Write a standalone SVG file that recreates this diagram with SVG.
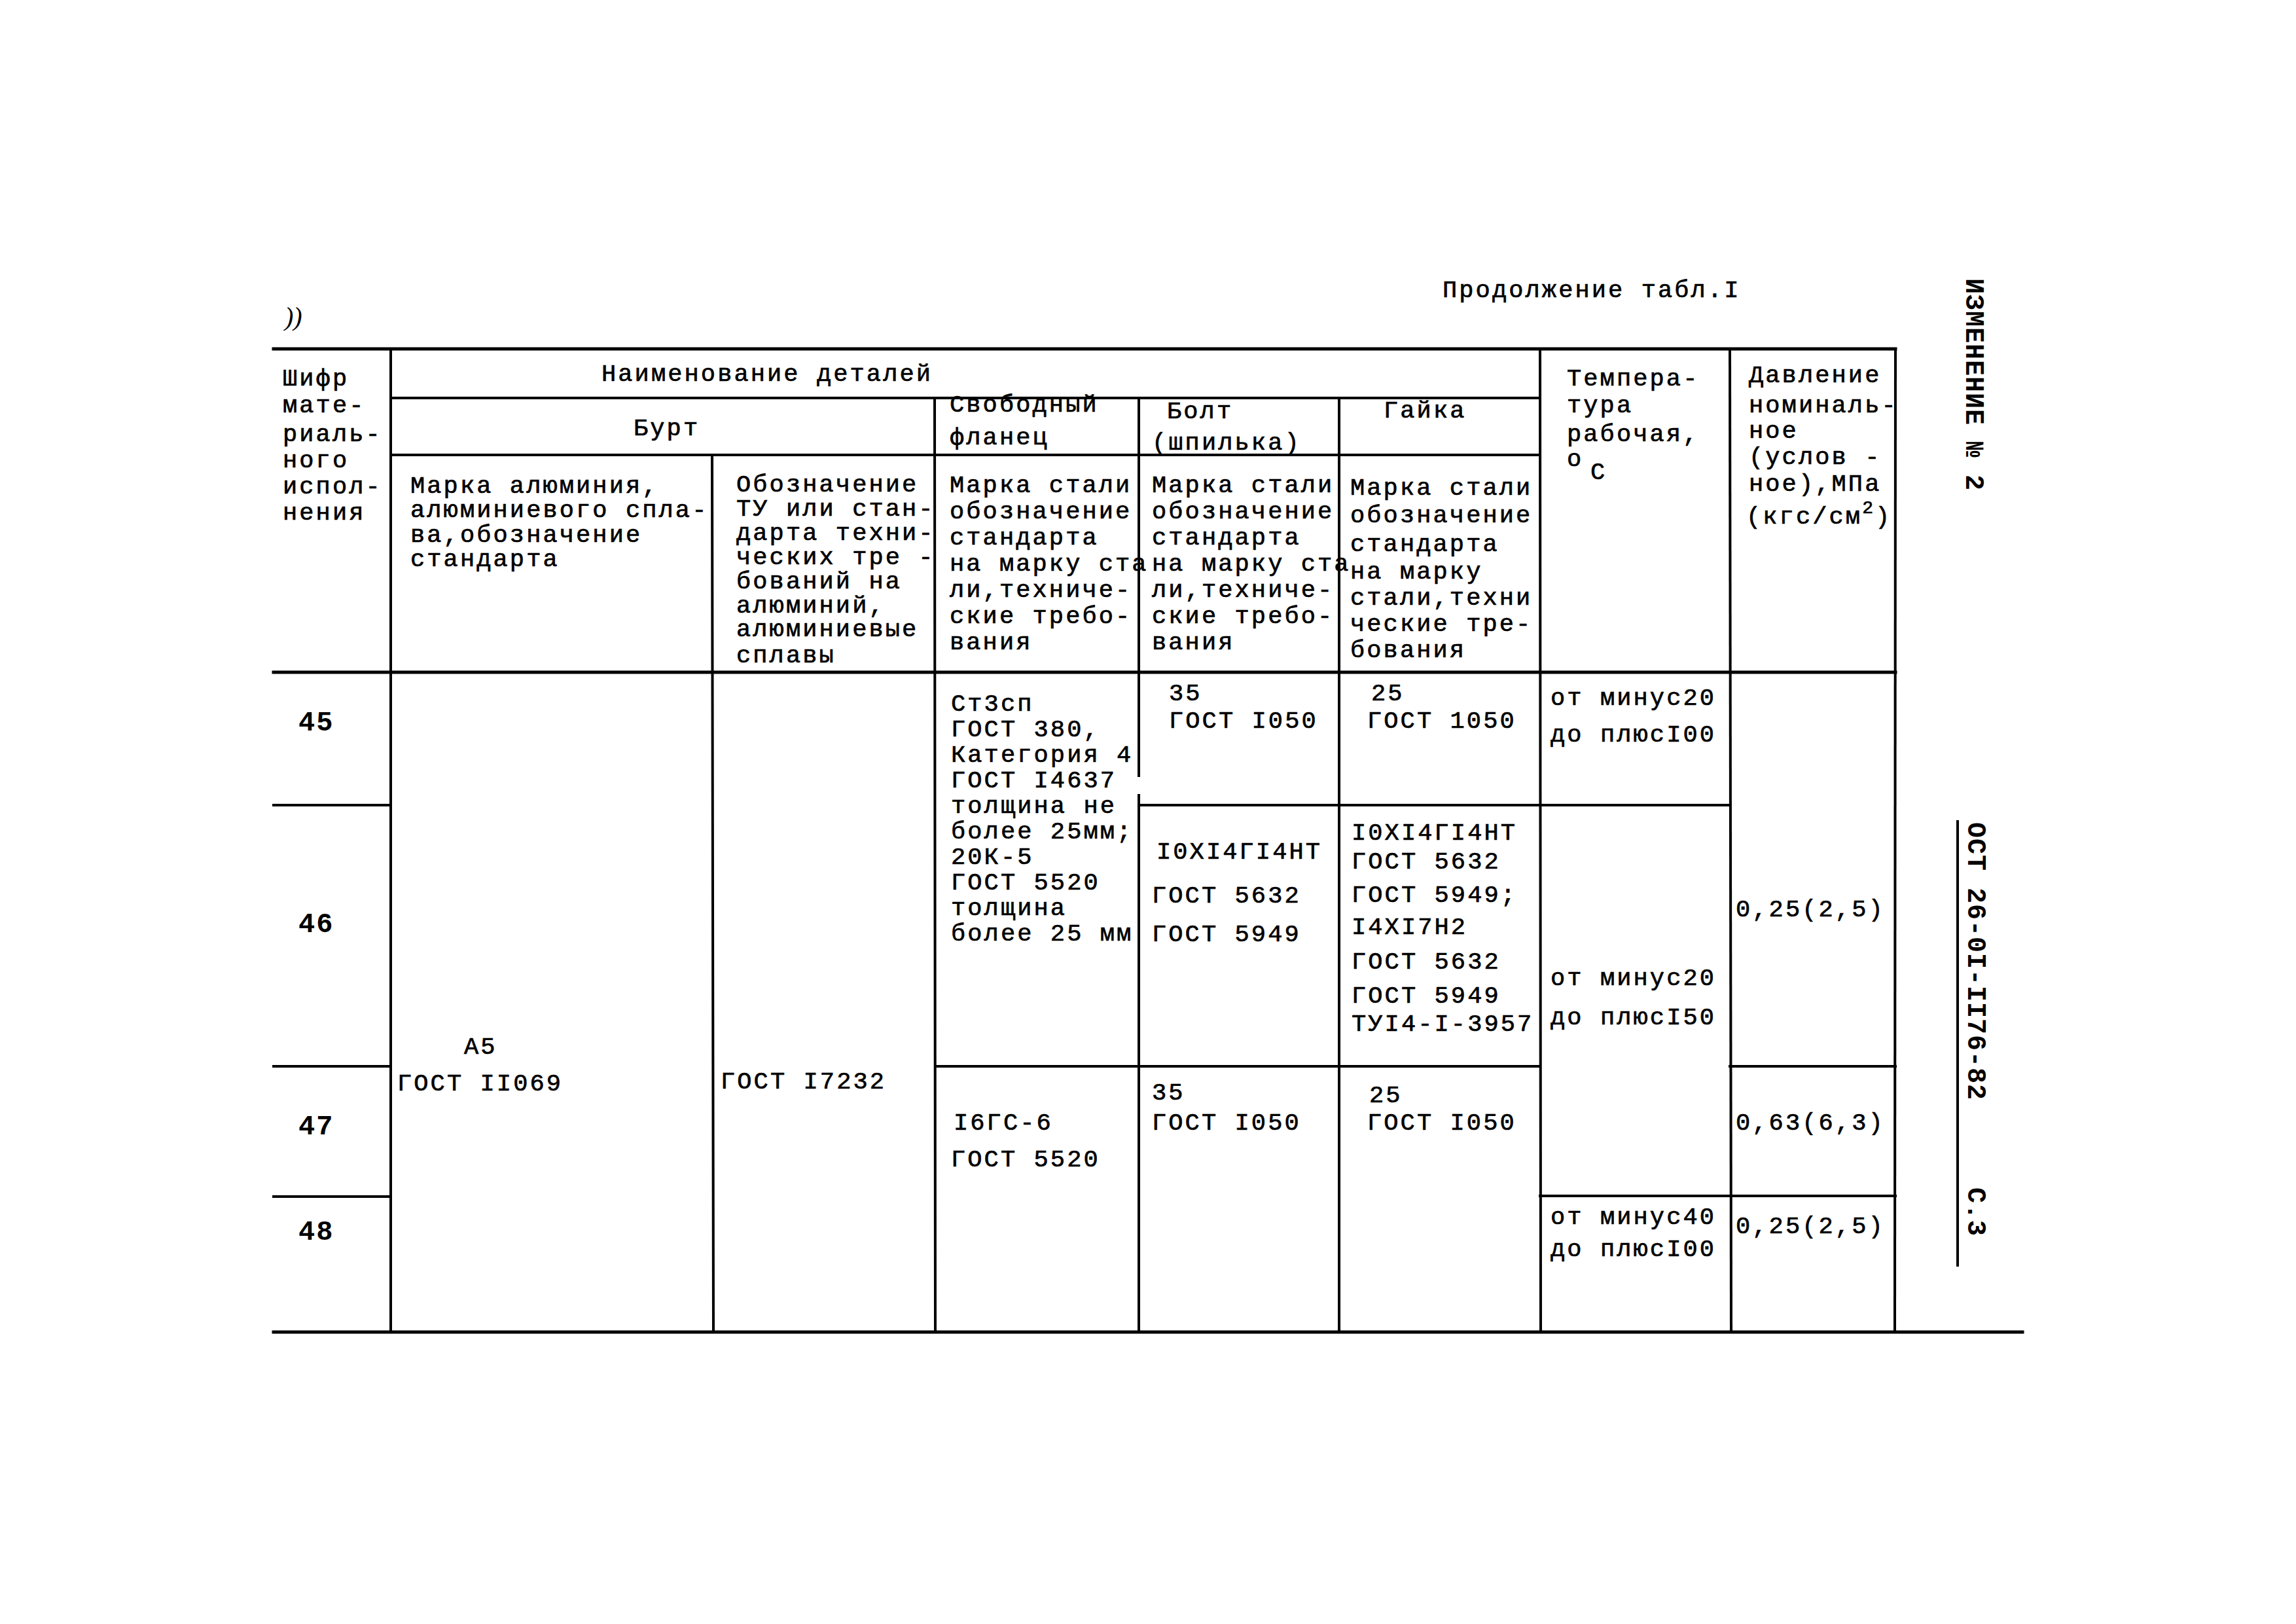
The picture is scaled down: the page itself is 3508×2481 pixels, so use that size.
<svg xmlns="http://www.w3.org/2000/svg" width="3508" height="2481" viewBox="0 0 3508 2481">
<style>
  text { font-family: "Liberation Mono", "DejaVu Sans Mono", monospace; font-size: 37px; letter-spacing: 3.1px; fill: #000; stroke: #000; stroke-width: 0.7px; }
  .num { font-size: 42px; letter-spacing: 2px; font-weight: bold; stroke-width: 0; }
  .side { font-size: 40px; letter-spacing: 1px; font-weight: bold; stroke-width: 0; }
  .sup { font-size: 28px; }
  .ln { stroke: #000; stroke-width: 4; fill: none; stroke-linecap: square; }
  .thick { stroke: #000; stroke-width: 5; fill: none; stroke-linecap: square; }
</style>
<rect width="3508" height="2481" fill="#fff"/>

<g id="connectors">
  <line class="thick" x1="418" y1="533" x2="2896" y2="533"/>
  <line class="thick" x1="418" y1="1027" x2="2896" y2="1027"/>
  <line class="thick" x1="418" y1="2035" x2="3090" y2="2035"/>
  <line class="ln" x1="597" y1="608" x2="2353" y2="608"/>
  <line class="ln" x1="597" y1="695" x2="2353" y2="695"/>
  <line class="ln" x1="597" y1="533" x2="597" y2="2035"/>
  <line class="ln" x1="1088" y1="695" x2="1090" y2="2035"/>
  <line class="ln" x1="1428" y1="608" x2="1429" y2="2035"/>
  <line class="ln" x1="1740" y1="608" x2="1740" y2="1185"/>
  <line class="ln" x1="1740" y1="1215" x2="1740" y2="2035"/>
  <line class="ln" x1="2046" y1="608" x2="2046" y2="2035"/>
  <line class="ln" x1="2353" y1="533" x2="2354" y2="2035"/>
  <line class="ln" x1="2643" y1="533" x2="2645" y2="2035"/>
  <line class="ln" x1="2896" y1="533" x2="2895" y2="2035"/>
  <line class="ln" x1="418" y1="1230" x2="597" y2="1230"/>
  <line class="ln" x1="1740" y1="1230" x2="2643" y2="1230"/>
  <line class="ln" x1="418" y1="1629" x2="597" y2="1629"/>
  <line class="ln" x1="1429" y1="1629" x2="2353" y2="1629"/>
  <line class="ln" x1="2643" y1="1629" x2="2896" y2="1629"/>
  <line class="ln" x1="418" y1="1828" x2="597" y2="1828"/>
  <line class="ln" x1="2353" y1="1827" x2="2896" y2="1827"/>
  <line class="ln" x1="2991" y1="1255" x2="2991" y2="1933"/>
</g>

<g id="title">
  <text x="435" y="497" style="font-family:'Liberation Serif',serif;font-style:italic;font-size:40px;stroke-width:0;letter-spacing:0">))</text>
  <text x="2204" y="454">Продолжение табл.I</text>
</g>

<g id="side-stamp">
  <text class="side" transform="translate(3004,425) rotate(90)">ИЗМЕНЕНИЕ № 2</text>
  <text class="side" transform="translate(3007,1256) rotate(90)">ОСТ 26-0I-II76-82</text>
  <text class="side" transform="translate(3007,1814) rotate(90)">С.3</text>
</g>

<g id="head-shifr">
  <text x="432" y="589">Шифр</text>
  <text x="432" y="630">мате-</text>
  <text x="432" y="674">риаль-</text>
  <text x="432" y="714">ного</text>
  <text x="432" y="754">испол-</text>
  <text x="432" y="794">нения</text>
</g>

<g id="head-naimenovanie">
  <text x="919" y="582">Наименование деталей</text>
</g>

<g id="head-burt">
  <text x="968" y="665">Бурт</text>
</g>

<g id="head-marka-al">
  <text x="627" y="753">Марка алюминия,</text>
  <text x="627" y="790">алюминиевого спла-</text>
  <text x="627" y="828">ва,обозначение</text>
  <text x="627" y="865">стандарта</text>
</g>

<g id="head-oboznachenie-tu">
  <text x="1125" y="751">Обозначение</text>
  <text x="1125" y="788">ТУ или стан-</text>
  <text x="1125" y="825">дарта техни-</text>
  <text x="1125" y="862">ческих тре -</text>
  <text x="1125" y="899">бований на</text>
  <text x="1125" y="936">алюминий,</text>
  <text x="1125" y="972">алюминиевые</text>
  <text x="1125" y="1012">сплавы</text>
</g>

<g id="head-flanec">
  <text x="1451" y="629">Свободный</text>
  <text x="1451" y="679">фланец</text>
  <text x="1451" y="752">Марка стали</text>
  <text x="1451" y="792">обозначение</text>
  <text x="1451" y="832">стандарта</text>
  <text x="1451" y="872">на марку ста</text>
  <text x="1451" y="912">ли,техниче-</text>
  <text x="1451" y="952">ские требо-</text>
  <text x="1451" y="992">вания</text>
</g>

<g id="head-bolt">
  <text x="1783" y="639">Болт</text>
  <text x="1760" y="687">(шпилька)</text>
  <text x="1760" y="752">Марка стали</text>
  <text x="1760" y="792">обозначение</text>
  <text x="1760" y="832">стандарта</text>
  <text x="1760" y="872">на марку ста</text>
  <text x="1760" y="912">ли,техниче-</text>
  <text x="1760" y="952">ские требо-</text>
  <text x="1760" y="992">вания</text>
</g>

<g id="head-gaika">
  <text x="2114" y="638">Гайка</text>
  <text x="2063" y="756">Марка стали</text>
  <text x="2063" y="798">обозначение</text>
  <text x="2063" y="842">стандарта</text>
  <text x="2063" y="884">на марку</text>
  <text x="2063" y="924">стали,техни</text>
  <text x="2063" y="964">ческие тре-</text>
  <text x="2063" y="1004">бования</text>
</g>

<g id="head-temp">
  <text x="2394" y="589">Темпера-</text>
  <text x="2394" y="630">тура</text>
  <text x="2394" y="674">рабочая,</text>
  <text x="2394" y="712">o</text>
  <text x="2430" y="732">С</text>
</g>

<g id="head-pressure">
  <text x="2672" y="584">Давление</text>
  <text x="2672" y="630">номиналь-</text>
  <text x="2672" y="669">ное</text>
  <text x="2672" y="709">(услов -</text>
  <text x="2672" y="750">ное),МПа</text>
  <text x="2668" y="800">(кгс/см<tspan class="sup" dy="-16">2</tspan><tspan dy="16">)</tspan></text>
</g>

<g id="row-numbers">
  <text class="num" x="456" y="1116">45</text>
  <text class="num" x="456" y="1424">46</text>
  <text class="num" x="456" y="1733">47</text>
  <text class="num" x="456" y="1894">48</text>
</g>

<g id="cell-burt-marka">
  <text x="709" y="1610">А5</text>
  <text x="607" y="1666">ГОСТ II069</text>
</g>

<g id="cell-burt-tu">
  <text x="1101" y="1663">ГОСТ I7232</text>
</g>

<g id="cell-flanec-45-46">
  <text x="1453" y="1086">Ст3сп</text>
  <text x="1453" y="1125">ГОСТ 380,</text>
  <text x="1453" y="1164">Категория 4</text>
  <text x="1453" y="1203">ГОСТ I4637</text>
  <text x="1453" y="1242">толщина не</text>
  <text x="1453" y="1281">более 25мм;</text>
  <text x="1453" y="1320">20К-5</text>
  <text x="1453" y="1359">ГОСТ 5520</text>
  <text x="1453" y="1398">толщина</text>
  <text x="1453" y="1437">более 25 мм</text>
</g>

<g id="cell-flanec-47-48">
  <text x="1457" y="1726">I6ГС-6</text>
  <text x="1453" y="1782">ГОСТ 5520</text>
</g>

<g id="cell-bolt-45">
  <text x="1786" y="1070">35</text>
  <text x="1786" y="1112">ГОСТ I050</text>
</g>

<g id="cell-bolt-46">
  <text x="1767" y="1312">I0XI4ГI4НТ</text>
  <text x="1760" y="1379">ГОСТ 5632</text>
  <text x="1760" y="1438">ГОСТ 5949</text>
</g>

<g id="cell-bolt-47-48">
  <text x="1760" y="1680">35</text>
  <text x="1760" y="1726">ГОСТ I050</text>
</g>

<g id="cell-gaika-45">
  <text x="2095" y="1070">25</text>
  <text x="2089" y="1112">ГОСТ 1050</text>
</g>

<g id="cell-gaika-46">
  <text x="2065" y="1283">I0XI4ГI4НТ</text>
  <text x="2065" y="1327">ГОСТ 5632</text>
  <text x="2065" y="1378">ГОСТ 5949;</text>
  <text x="2065" y="1427">I4XI7Н2</text>
  <text x="2065" y="1480">ГОСТ 5632</text>
  <text x="2065" y="1532">ГОСТ 5949</text>
  <text x="2065" y="1575">ТУI4-I-3957</text>
</g>

<g id="cell-gaika-47-48">
  <text x="2092" y="1684">25</text>
  <text x="2089" y="1726">ГОСТ I050</text>
</g>

<g id="cell-temp-45">
  <text x="2369" y="1077">от минус20</text>
  <text x="2369" y="1133">до плюсI00</text>
</g>

<g id="cell-temp-46-47">
  <text x="2369" y="1505">от минус20</text>
  <text x="2369" y="1565">до плюсI50</text>
</g>

<g id="cell-temp-48">
  <text x="2369" y="1870">от минус40</text>
  <text x="2369" y="1919">до плюсI00</text>
</g>

<g id="cell-pressure">
  <text x="2652" y="1400">0,25(2,5)</text>
  <text x="2652" y="1726">0,63(6,3)</text>
  <text x="2652" y="1884">0,25(2,5)</text>
</g>
</svg>
